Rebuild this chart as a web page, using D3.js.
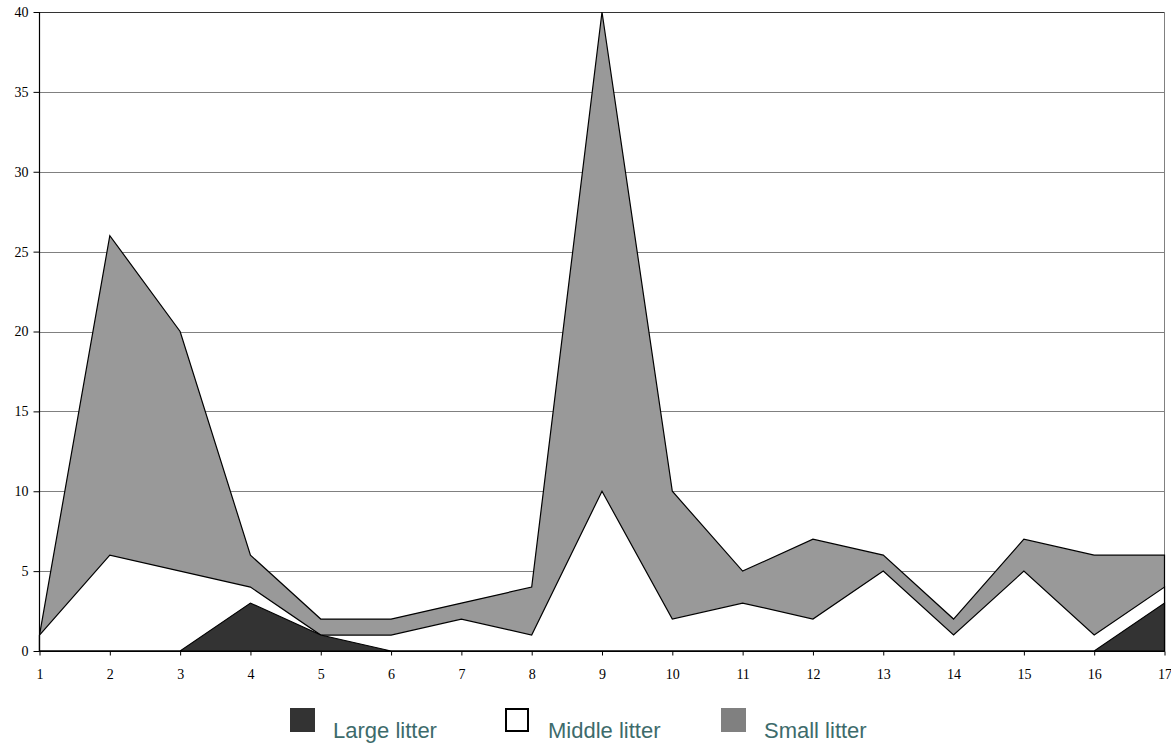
<!DOCTYPE html>
<html lang="en">
<head>
    <meta charset="UTF-8">
    <title>Litter</title>
    <script src="https://d3js.org/d3.v7.min.js"></script>
    <style>
        body {
            margin: 0;
            background: #fff;
        }
    </style>
</head>
<body>
    <div class="chart"></div>

    <script>
        // stations 1..17, values drawn overlapping (small behind, large in front)
        const stations = [1, 2, 3, 4, 5, 6, 7, 8, 9, 10, 11, 12, 13, 14, 15, 16, 17];
        const smallLitter = [1, 26, 20, 6, 2, 2, 3, 4, 40, 10, 5, 7, 6, 2, 7, 6, 6];
        const middleLitter = [1, 6, 5, 4, 1, 1, 2, 1, 10, 2, 3, 2, 5, 1, 5, 1, 4];
        const largeLitter = [0, 0, 0, 3, 1, 0, 0, 0, 0, 0, 0, 0, 0, 0, 0, 0, 3];
        const yTicks = [0, 5, 10, 15, 20, 25, 30, 35, 40];

        const series = [
            { name: 'Small litter', values: smallLitter, fill: '#999999', key: '#808080' },
            { name: 'Middle litter', values: middleLitter, fill: '#ffffff', key: '#ffffff' },
            { name: 'Large litter', values: largeLitter, fill: '#333333', key: '#333333' }
        ];

        const svgWidth = 1171;
        const svgHeight = 745;

        const svg = d3.select('.chart')
            .append('svg')
            .attr('width', svgWidth)
            .attr('height', svgHeight);

        const xScale = d3.scaleLinear()
            .domain([1, 17])
            .range([39.5, 1164.5]);

        const yScale = d3.scaleLinear()
            .domain([0, 40])
            .range([651, 12]);

        // gridlines
        svg.append('g')
            .selectAll('line')
            .data(yTicks.slice(1))
            .enter()
            .append('line')
            .attr('x1', xScale(1))
            .attr('x2', xScale(17))
            .attr('y1', d => Math.round(yScale(d)) + 0.5)
            .attr('y2', d => Math.round(yScale(d)) + 0.5)
            .attr('stroke', d => d === 40 ? '#333' : '#808080')
            .attr('stroke-width', 1);

        // right edge of the plot
        svg.append('line')
            .attr('x1', xScale(17))
            .attr('x2', xScale(17))
            .attr('y1', yScale(40))
            .attr('y2', yScale(0))
            .attr('stroke', '#808080');

        const area = d3.area()
            .x((d, i) => xScale(stations[i]))
            .y0(yScale(0))
            .y1(d => yScale(d));

        svg.append('g')
            .selectAll('path')
            .data(series)
            .enter()
            .append('path')
            .attr('d', d => area(d.values))
            .attr('fill', d => d.fill)
            .attr('stroke', '#000')
            .attr('stroke-width', 1.2)
            .attr('stroke-linejoin', 'miter');

        // axes
        const yAxis = svg.append('g')
            .attr('transform', `translate(${xScale(1)},0)`)
            .call(d3.axisLeft(yScale).tickValues(yTicks).tickSize(6).tickPadding(5));

        const xAxis = svg.append('g')
            .attr('transform', `translate(0,${Math.round(yScale(0)) + 0.5})`)
            .call(d3.axisBottom(xScale).tickValues(stations).tickFormat(d3.format('d')).tickSize(4).tickPadding(14));

        [yAxis, xAxis].forEach(ax => {
            ax.select('.domain').attr('stroke', '#000').attr('stroke-width', 1.2);
            ax.selectAll('.tick line').attr('stroke', '#000');
            ax.selectAll('text')
                .attr('fill', '#000')
                .style('font-family', '"Liberation Serif", "Times New Roman", serif')
                .style('font-size', '14px');
        });
        yAxis.select('.domain').attr('d', `M0,${yScale(0)}V${yScale(40)}`);
        xAxis.select('.domain').attr('d', `M${xScale(1)},0H${xScale(17)}`);

        // legend
        const legendItems = [series[2], series[1], series[0]];
        const legendX = [290, 505, 721];

        const legend = svg.append('g')
            .selectAll('g')
            .data(legendItems)
            .enter()
            .append('g')
            .attr('transform', (d, i) => `translate(${legendX[i]},708)`);

        legend.append('rect')
            .attr('x', d => d.name === 'Middle litter' ? 1 : 0)
            .attr('y', d => d.name === 'Middle litter' ? 1 : 0)
            .attr('width', d => d.name === 'Middle litter' ? 22 : 25)
            .attr('height', d => d.name === 'Middle litter' ? 22 : 24)
            .attr('fill', d => d.key)
            .attr('stroke', d => d.name === 'Middle litter' ? '#000' : 'none')
            .attr('stroke-width', 2);

        legend.append('text')
            .attr('x', 43)
            .attr('y', 30)
            .attr('fill', '#3d6b6b')
            .style('font-family', '"Liberation Sans", Arial, sans-serif')
            .style('font-size', '22px')
            .text(d => d.name);
    </script>
</body>
</html>
